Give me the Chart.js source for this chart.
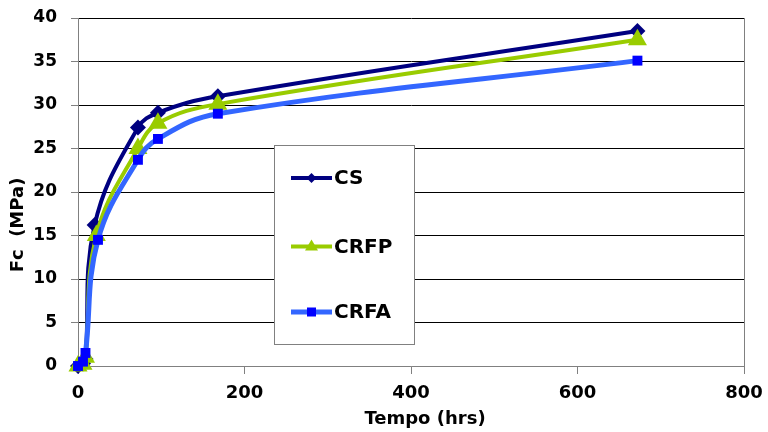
<!DOCTYPE html>
<html>
<head>
<meta charset="utf-8">
<script src="https://cdn.jsdelivr.net/npm/chart.js@4/dist/chart.umd.min.js"></script>
<style>
  body { margin: 0; background: #fff; }
  #wrap { width: 768px; height: 432px; }
</style>
</head>
<body>
<div id="wrap"><canvas id="myChart" width="768" height="432"></canvas></div>
<script>
// data (hours, MPa)
const seriesNames = ['CS', 'CRFP', 'CRFA'];
const csHours = [0, 6, 9, 20, 72, 96, 168, 672];
const csFc = [0, 0.3, 0.8, 16.2, 27.4, 29.1, 31.0, 38.5];
const crfpHours = [0, 6, 9, 22, 72, 96, 168, 672];
const crfpFc = [0, 0.2, 1.0, 15.0, 25.0, 27.9, 30.1, 37.5];
const crfaHours = [0, 6, 9, 24, 72, 96, 168, 672];
const crfaFc = [0, 0.5, 1.5, 14.5, 23.7, 26.1, 29.0, 35.1];
const xTicks = [0, 200, 400, 600, 800];
const yTicks = [0, 5, 10, 15, 20, 25, 30, 35, 40];

const font = 'DejaVu Sans, Liberation Sans, sans-serif';

function pts(xs, ys) {
  return xs.map((x, i) => ({ x: x, y: ys[i] }));
}

// legend box drawn inside the plot, like the original
const boxLegend = {
  id: 'boxLegend',
  afterDraw(chart) {
    const ctx = chart.ctx;
    ctx.save();
    ctx.fillStyle = '#fff';
    ctx.fillRect(275, 146, 139, 198);
    ctx.strokeStyle = '#808080';
    ctx.lineWidth = 1;
    ctx.strokeRect(274.5, 145.5, 140, 199);
    const rows = [178, 246.5, 312];
    chart.data.datasets.forEach((ds, i) => {
      const y = rows[i];
      ctx.strokeStyle = ds.borderColor;
      ctx.lineWidth = ds.borderWidth;
      ctx.beginPath();
      ctx.moveTo(291, y);
      ctx.lineTo(332, y);
      ctx.stroke();
      ctx.fillStyle = ds.pointBackgroundColor;
      ctx.beginPath();
      const cx = 311.5;
      if (ds.pointStyle === 'rectRot') {
        ctx.moveTo(cx - 5, y); ctx.lineTo(cx, y - 5); ctx.lineTo(cx + 5, y); ctx.lineTo(cx, y + 5);
      } else if (ds.pointStyle === 'triangle') {
        ctx.moveTo(cx, y - 7); ctx.lineTo(cx + 6.5, y + 4); ctx.lineTo(cx - 6.5, y + 4);
      } else {
        ctx.rect(cx - 4.5, y - 4.5, 9, 9);
      }
      ctx.closePath();
      ctx.fill();
      ctx.fillStyle = '#000';
      ctx.font = 'bold 20px ' + font;
      ctx.textBaseline = 'middle';
      ctx.textAlign = 'left';
      ctx.fillText(ds.label, 334, y + 1);
    });

    // axis titles
    ctx.fillStyle = '#000';
    ctx.font = 'bold 18px ' + font;
    ctx.textAlign = 'center';
    ctx.textBaseline = 'middle';
    ctx.fillText('Tempo (hrs)', 425, 419);
    ctx.translate(18, 225);
    ctx.rotate(-Math.PI / 2);
    ctx.fillText('Fc  (MPa)', 0, 0);
    ctx.restore();
  }
};

const config = {
  type: 'line',
  data: {
    datasets: [{
      label: seriesNames[0],
      data: pts(csHours, csFc),
      borderColor: '#000080',
      borderWidth: 4,
      pointStyle: 'rectRot',
      pointRadius: 8,
      pointBackgroundColor: '#000080',
      pointBorderWidth: 0,
      tension: 0.4,
      clip: false,
      order: 3
    }, {
      label: seriesNames[1],
      data: pts(crfpHours, crfpFc),
      borderColor: '#99CC00',
      borderWidth: 4,
      pointStyle: 'triangle',
      pointRadius: 11,
      pointBackgroundColor: '#99CC00',
      pointBorderWidth: 0,
      tension: 0.4,
      clip: false,
      order: 2
    }, {
      label: seriesNames[2],
      data: pts(crfaHours, crfaFc),
      borderColor: '#3366FF',
      borderWidth: 5,
      pointStyle: 'rect',
      pointRadius: 7,
      pointBackgroundColor: '#0000FF',
      pointBorderWidth: 0,
      tension: 0.4,
      clip: false,
      order: 1
    }]
  },
  options: {
    responsive: false,
    animation: false,
    layout: { padding: { top: 18, right: 24, left: 0, bottom: 0 } },
    plugins: {
      legend: { display: false },
      tooltip: { enabled: false }
    },
    scales: {
      x: {
        type: 'linear',
        min: 0,
        max: 800,
        afterBuildTicks: s => { s.ticks = xTicks.map(v => ({ value: v })); },
        afterFit: s => { s.height = 66; s.paddingLeft = 0; s.paddingRight = 0; },
        ticks: { color: '#000', font: { family: font, size: 18, weight: 'bold' }, padding: 9, maxRotation: 0 },
        grid: {
          color: c => (c.tick && c.tick.value === 800 ? '#808080' : 'transparent'),
          tickColor: '#808080',
          tickLength: 8
        },
        border: { color: '#808080', width: 1 }
      },
      y: {
        min: 0,
        max: 40,
        afterBuildTicks: s => { s.ticks = yTicks.map(v => ({ value: v })); },
        afterFit: s => { s.width = 78; s.paddingTop = 0; s.paddingBottom = 0; },
        ticks: { color: '#000', font: { family: font, size: 17, weight: 'bold' }, padding: 14 },
        grid: {
          color: c => (c.tick && c.tick.value === 0 ? '#808080' : '#000'),
          tickColor: '#808080',
          tickLength: 7
        },
        border: { color: '#808080', width: 1 }
      }
    }
  },
  plugins: [boxLegend]
};

const myChart = new Chart(document.getElementById('myChart'), config);
</script>
</body>
</html>
